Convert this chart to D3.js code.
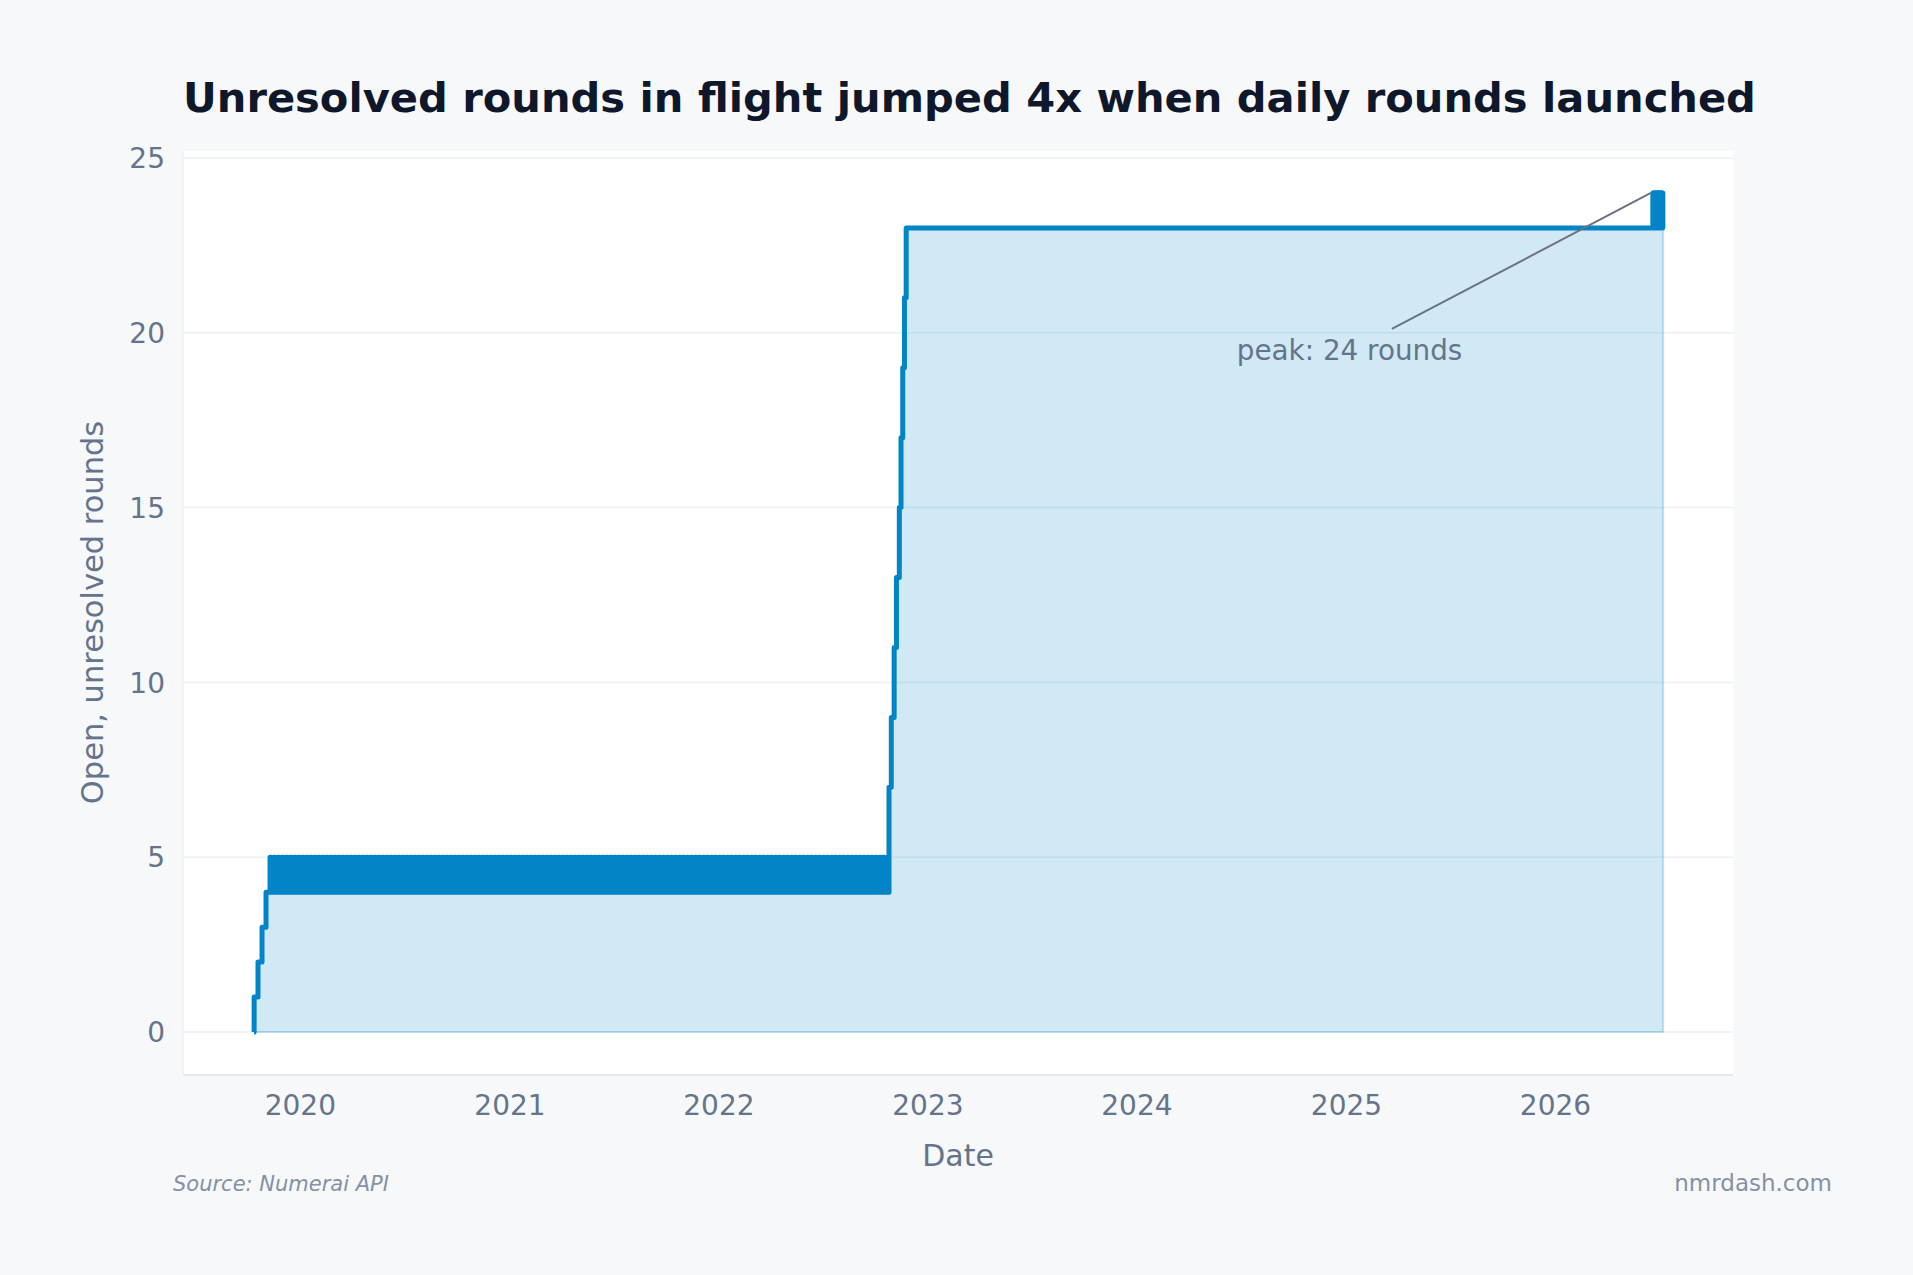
<!DOCTYPE html>
<html lang="en">
<head>
<meta charset="UTF-8">
<title>Unresolved rounds in flight</title>
<style>
    body { margin: 0; background: #f7f8fa; }
    #chart { width: 1913px; height: 1275px; }
    text { font-family: "DejaVu Sans", sans-serif; }
</style>
</head>
<body>
<div id="chart"></div>
<script src="https://cdn.jsdelivr.net/npm/d3@7/dist/d3.min.js"></script>
<script>
// ---- data ----
// first weeks: one weekly round opens every Saturday, count climbs 0 -> 4
const startSteps = [
    ["2019-10-12T00:00", 0], ["2019-10-12T06:00", 1], ["2019-10-19", 2],
    ["2019-10-26", 3], ["2019-11-02", 4]
];

// weekly era: a round opens each Saturday (5 open), an older one resolves early in the week (4 open)
const weeklyHigh = 5, weeklyLow = 4, weeklyResolveLagDays = 2;
const weeklyOpens = [
    "2019-11-09","2019-11-16","2019-11-23","2019-11-30","2019-12-07","2019-12-14","2019-12-21","2019-12-28",
    "2020-01-04","2020-01-11","2020-01-18","2020-01-25","2020-02-01","2020-02-08","2020-02-15","2020-02-22",
    "2020-02-29","2020-03-07","2020-03-14","2020-03-21","2020-03-28","2020-04-04","2020-04-11","2020-04-18",
    "2020-04-25","2020-05-02","2020-05-09","2020-05-16","2020-05-23","2020-05-30","2020-06-06","2020-06-13",
    "2020-06-20","2020-06-27","2020-07-04","2020-07-11","2020-07-18","2020-07-25","2020-08-01","2020-08-08",
    "2020-08-15","2020-08-22","2020-08-29","2020-09-05","2020-09-12","2020-09-19","2020-09-26","2020-10-03",
    "2020-10-10","2020-10-17","2020-10-24","2020-10-31","2020-11-07","2020-11-14","2020-11-21","2020-11-28",
    "2020-12-05","2020-12-12","2020-12-19","2020-12-26","2021-01-02","2021-01-09","2021-01-16","2021-01-23",
    "2021-01-30","2021-02-06","2021-02-13","2021-02-20","2021-02-27","2021-03-06","2021-03-13","2021-03-20",
    "2021-03-27","2021-04-03","2021-04-10","2021-04-17","2021-04-24","2021-05-01","2021-05-08","2021-05-15",
    "2021-05-22","2021-05-29","2021-06-05","2021-06-12","2021-06-19","2021-06-26","2021-07-03","2021-07-10",
    "2021-07-17","2021-07-24","2021-07-31","2021-08-07","2021-08-14","2021-08-21","2021-08-28","2021-09-04",
    "2021-09-11","2021-09-18","2021-09-25","2021-10-02","2021-10-09","2021-10-16","2021-10-23","2021-10-30",
    "2021-11-06","2021-11-13","2021-11-20","2021-11-27","2021-12-04","2021-12-11","2021-12-18","2021-12-25",
    "2022-01-01","2022-01-08","2022-01-15","2022-01-22","2022-01-29","2022-02-05","2022-02-12","2022-02-19",
    "2022-02-26","2022-03-05","2022-03-12","2022-03-19","2022-03-26","2022-04-02","2022-04-09","2022-04-16",
    "2022-04-23","2022-04-30","2022-05-07","2022-05-14","2022-05-21","2022-05-28","2022-06-04","2022-06-11",
    "2022-06-18","2022-06-25","2022-07-02","2022-07-09","2022-07-16","2022-07-23","2022-07-30","2022-08-06",
    "2022-08-13","2022-08-20","2022-08-27","2022-09-03","2022-09-10","2022-09-17","2022-09-24","2022-10-01",
    "2022-10-08","2022-10-15","2022-10-22"
];

// daily rounds launch: count climbs to 23 within a month
const dailyRamp = [
    ["2022-10-25", 7], ["2022-10-29", 9], ["2022-11-03", 11], ["2022-11-07", 13],
    ["2022-11-12", 15], ["2022-11-15", 17], ["2022-11-18", 19], ["2022-11-21", 21],
    ["2022-11-24", 23]
];

// latest weeks: toggling between 23 and 24 within each day
const peakHigh = 24, peakLow = 23, peakLagHours = 12;
const peakDays = [
    "2026-06-20","2026-06-21","2026-06-22","2026-06-23","2026-06-24","2026-06-25",
    "2026-06-26","2026-06-27","2026-06-28","2026-06-29","2026-06-30","2026-07-01",
    "2026-07-02","2026-07-03","2026-07-04","2026-07-05","2026-07-06","2026-07-07"
];
const lastPoint = ["2026-07-08", 23];

const yTicks = [0, 5, 10, 15, 20, 25];
const xRange = ["2019-06-10", "2026-11-07"];
const yRange = [-1.2, 25.2];

// ---- layout ----
const W = 1913, H = 1275;
const plot = {left: 183, right: 1733, top: 151, bottom: 1074};
const lineColor = "#0284c7";
const muted = "#64748b";

const parse = s => new Date(s.length > 10 ? s + "Z" : s + "T00:00Z");

var series = [];
startSteps.forEach(d => series.push({date: parse(d[0]), v: d[1]}));
weeklyOpens.forEach(function (s) {
    var d = parse(s);
    series.push({date: d, v: weeklyHigh});
    series.push({date: d3.utcDay.offset(d, weeklyResolveLagDays), v: weeklyLow});
});
dailyRamp.forEach(d => series.push({date: parse(d[0]), v: d[1]}));
peakDays.forEach(function (s) {
    var d = parse(s);
    series.push({date: d, v: peakHigh});
    series.push({date: d3.utcHour.offset(d, peakLagHours), v: peakLow});
});
series.push({date: parse(lastPoint[0]), v: lastPoint[1]});

var x = d3.scaleUtc().domain(xRange.map(parse)).range([plot.left, plot.right]);
var y = d3.scaleLinear().domain(yRange).range([plot.bottom, plot.top]);

var svg = d3.select("#chart").append("svg")
    .attr("width", W).attr("height", H)
    .attr("viewBox", "0 0 " + W + " " + H);

svg.append("rect").attr("width", W).attr("height", H).attr("fill", "#f7f8fa");

// plot background
svg.append("rect")
    .attr("x", plot.left).attr("y", plot.top)
    .attr("width", plot.right - plot.left).attr("height", plot.bottom - plot.top)
    .attr("fill", "#ffffff");

// title
svg.append("text")
    .attr("x", plot.left).attr("y", 112)
    .attr("font-size", 41.6).attr("font-weight", "bold")
    .attr("fill", "#0f172a")
    .text("Unresolved rounds in flight jumped 4x when daily rounds launched");

// gridlines + y labels
var yAxis = svg.append("g");
yAxis.selectAll("line").data(yTicks).enter().append("line")
    .attr("x1", plot.left).attr("x2", plot.right)
    .attr("y1", d => y(d)).attr("y2", d => y(d))
    .attr("stroke", "#edf0f4").attr("stroke-width", 1.5);
yAxis.selectAll("text").data(yTicks).enter().append("text")
    .attr("x", plot.left - 18).attr("y", d => y(d))
    .attr("dy", "0.36em")
    .attr("text-anchor", "end")
    .attr("font-size", 28).attr("fill", muted)
    .text(d => d);

// axis lines
svg.append("line")
    .attr("x1", plot.left).attr("x2", plot.left)
    .attr("y1", plot.top).attr("y2", plot.bottom)
    .attr("stroke", "#eceff3").attr("stroke-width", 1.5);
svg.append("line")
    .attr("x1", plot.left).attr("x2", plot.right)
    .attr("y1", plot.bottom + 1).attr("y2", plot.bottom + 1)
    .attr("stroke", "#e2e8f0").attr("stroke-width", 2);

// x labels
var xTicks = x.ticks(d3.utcYear.every(1));
svg.append("g").selectAll("text").data(xTicks).enter().append("text")
    .attr("x", d => x(d)).attr("y", plot.bottom + 41)
    .attr("text-anchor", "middle")
    .attr("font-size", 28).attr("fill", muted)
    .text(d3.utcFormat("%Y"));

// axis titles
svg.append("text")
    .attr("x", (plot.left + plot.right) / 2).attr("y", 1166)
    .attr("text-anchor", "middle")
    .attr("font-size", 30).attr("fill", muted)
    .text("Date");
svg.append("text")
    .attr("transform", "translate(103," + (plot.top + plot.bottom) / 2 + ") rotate(-90)")
    .attr("text-anchor", "middle")
    .attr("font-size", 30.5).attr("fill", muted)
    .text("Open, unresolved rounds");

// area + step line
var area = d3.area().curve(d3.curveStepAfter)
    .x(d => x(d.date)).y0(y(0)).y1(d => y(d.v));
var line = d3.line().curve(d3.curveStepAfter)
    .x(d => x(d.date)).y(d => y(d.v));

svg.append("path").datum(series)
    .attr("d", area)
    .attr("fill", "rgba(2,132,199,0.18)")
    .attr("stroke", "rgba(2,132,199,0.22)")
    .attr("stroke-width", 2);

svg.append("path").datum(series)
    .attr("d", line)
    .attr("fill", "none")
    .attr("stroke", lineColor)
    .attr("stroke-width", 5)
    .attr("stroke-linejoin", "round");

// peak annotation
var peak = series[d3.maxIndex(series, d => d.v)];
var px = x(peak.date), py = y(peak.v);
svg.append("line")
    .attr("x1", px - 261).attr("y1", py + 136)
    .attr("x2", px - 2).attr("y2", py)
    .attr("stroke", "#6b7280").attr("stroke-width", 2);
svg.append("text")
    .attr("x", px - 416).attr("y", py + 167)
    .attr("font-size", 27.8).attr("fill", muted)
    .text("peak: " + peak.v + " rounds");

// footer
svg.append("text")
    .attr("x", 173).attr("y", 1191)
    .attr("font-size", 21).attr("font-style", "italic")
    .attr("fill", "#8391a7")
    .text("Source: Numerai API");
svg.append("text")
    .attr("x", 1832).attr("y", 1191)
    .attr("text-anchor", "end")
    .attr("font-size", 23).attr("fill", "#8391a7")
    .text("nmrdash.com");
</script>
</body>
</html>
